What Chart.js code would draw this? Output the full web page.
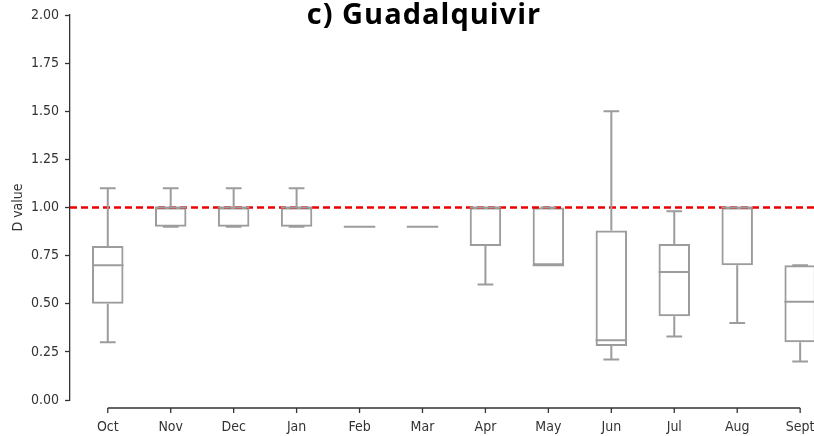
<!DOCTYPE html>
<html>
<head>
<meta charset="utf-8">
<script src="https://cdn.jsdelivr.net/npm/chart.js@4.4.1/dist/chart.umd.min.js"></script>
<style>
  html, body { margin: 0; padding: 0; background: #fff; }
  #wrap { width: 814px; height: 436px; position: relative; }
</style>
</head>
<body>
<div id="wrap"><canvas id="boxChart"></canvas></div>
<script>
// Data (box plot per month)
const months = ['Oct', 'Nov', 'Dec', 'Jan', 'Feb', 'Mar', 'Apr', 'May', 'Jun', 'Jul', 'Aug', 'Sept'];
const whiskerLow  = [0.30, 0.90, 0.90, 0.90, 0.90, 0.90, 0.60, 0.70, 0.21, 0.33, 0.40, 0.20];
const q1          = [0.50, 0.90, 0.90, 0.90, 0.90, 0.90, 0.80, 0.70, 0.28, 0.435, 0.70, 0.30];
const median      = [0.70, 1.00, 1.00, 1.00, 0.90, 0.90, 1.00, 0.70, 0.31, 0.665, 1.00, 0.51];
const q3          = [0.80, 1.00, 1.00, 1.00, 0.90, 0.90, 1.00, 1.00, 0.88, 0.81, 1.00, 0.70];
const whiskerHigh = [1.10, 1.10, 1.10, 1.10, 0.90, 0.90, 1.00, 1.00, 1.50, 0.98, 1.00, 0.70];
const yTicks = [0, 0.25, 0.5, 0.75, 1.0, 1.25, 1.5, 1.75, 2.0];
const refValue = 1.0;

const boxColor = '#9c9c9c';
const axisColor = '#333333';
const tickFont = { family: "'DejaVu Sans Condensed', 'DejaVu Sans'", size: 14 };

const xMin = -0.6, xMax = 11.22;

// whiskers, caps and medians drawn from the bar elements
const boxPlugin = {
    id: 'boxExtras',
    afterDatasetsDraw(chart) {
        const ctx = chart.ctx;
        const y = chart.scales.y;
        const meta = chart.getDatasetMeta(0);
        ctx.save();
        ctx.strokeStyle = boxColor;
        ctx.lineWidth = 2;
        meta.data.forEach((bar, i) => {
            const cx = bar.x;
            const half = bar.width / 2;
            const cap = bar.width / 4;
            ctx.beginPath();
            // lower whisker
            ctx.moveTo(cx, y.getPixelForValue(q1[i]));
            ctx.lineTo(cx, y.getPixelForValue(whiskerLow[i]));
            ctx.moveTo(cx - cap, y.getPixelForValue(whiskerLow[i]));
            ctx.lineTo(cx + cap, y.getPixelForValue(whiskerLow[i]));
            // upper whisker
            ctx.moveTo(cx, y.getPixelForValue(q3[i]));
            ctx.lineTo(cx, y.getPixelForValue(whiskerHigh[i]));
            ctx.moveTo(cx - cap, y.getPixelForValue(whiskerHigh[i]));
            ctx.lineTo(cx + cap, y.getPixelForValue(whiskerHigh[i]));
            // median
            ctx.moveTo(cx - half, y.getPixelForValue(median[i]));
            ctx.lineTo(cx + half, y.getPixelForValue(median[i]));
            ctx.stroke();
        });
        ctx.restore();
    },
    afterDraw(chart) {
        const ctx = chart.ctx;
        const x = chart.scales.x;
        const area = chart.chartArea;
        // offset bottom spine
        const sy = area.bottom + 8;
        ctx.save();
        ctx.strokeStyle = axisColor;
        ctx.lineWidth = 1.3;
        ctx.beginPath();
        ctx.moveTo(x.getPixelForValue(0), sy);
        ctx.lineTo(x.getPixelForValue(months.length - 1), sy);
        months.forEach((m, i) => {
            ctx.moveTo(x.getPixelForValue(i), sy);
            ctx.lineTo(x.getPixelForValue(i), sy + 5);
        });
        ctx.stroke();
        // title
        ctx.fillStyle = '#000';
        ctx.font = "bold 29px 'Open Sans'";
        ctx.letterSpacing = '1px';
        ctx.textAlign = 'center';
        ctx.textBaseline = 'alphabetic';
        ctx.fillText('c) Guadalquivir', 424, 24);
        ctx.restore();
    }
};

new Chart(document.getElementById('boxChart'), {
    type: 'bar',
    data: {
        datasets: [{
            label: 'box',
            data: months.map((m, i) => ({ x: i, y: [q1[i], q3[i]] })),
            backgroundColor: 'rgba(0,0,0,0)',
            borderColor: boxColor,
            borderWidth: 2,
            borderSkipped: false,
            categoryPercentage: 1,
            barPercentage: 0.5
        }, {
            type: 'line',
            label: 'ref',
            data: [{ x: xMin, y: refValue }, { x: xMax, y: refValue }],
            borderColor: '#ee0000',
            borderWidth: 2.5,
            borderDash: [7, 4],
            pointRadius: 0,
            order: -1
        }]
    },
    options: {
        responsive: true,
        maintainAspectRatio: false,
        animation: false,
        layout: { padding: { top: 15, right: 0, bottom: 0, left: 0 } },
        plugins: {
            legend: { display: false },
            tooltip: { enabled: false }
        },
        scales: {
            x: {
                type: 'linear',
                offset: false,
                min: xMin,
                max: xMax,
                afterBuildTicks: (scale) => {
                    scale.ticks = months.map((m, i) => ({ value: i }));
                },
                afterFit: (scale) => {
                    scale.height = 36;
                    scale.paddingRight = 0;
                    scale.paddingLeft = 0;
                },
                grid: { display: false },
                border: { display: false },
                ticks: {
                    autoSkip: false,
                    maxRotation: 0,
                    padding: 11,
                    color: axisColor,
                    font: tickFont,
                    callback: (v) => months[v]
                }
            },
            y: {
                min: 0,
                max: 2,
                afterBuildTicks: (scale) => {
                    scale.ticks = yTicks.map(v => ({ value: v }));
                },
                afterFit: (scale) => { scale.width = 70; },
                grid: {
                    drawOnChartArea: false,
                    color: axisColor,
                    tickLength: 5,
                    tickWidth: 1.3
                },
                border: { display: true, color: axisColor, width: 1.3 },
                ticks: {
                    padding: 6,
                    color: axisColor,
                    font: tickFont,
                    callback: (v) => v.toFixed(2)
                },
                title: {
                    display: true,
                    text: 'D value',
                    color: axisColor,
                    font: { family: "'DejaVu Sans Condensed', 'DejaVu Sans'", size: 14 },
                    padding: { top: 10, bottom: 0 }
                }
            }
        }
    },
    plugins: [boxPlugin]
});
</script>
</body>
</html>
